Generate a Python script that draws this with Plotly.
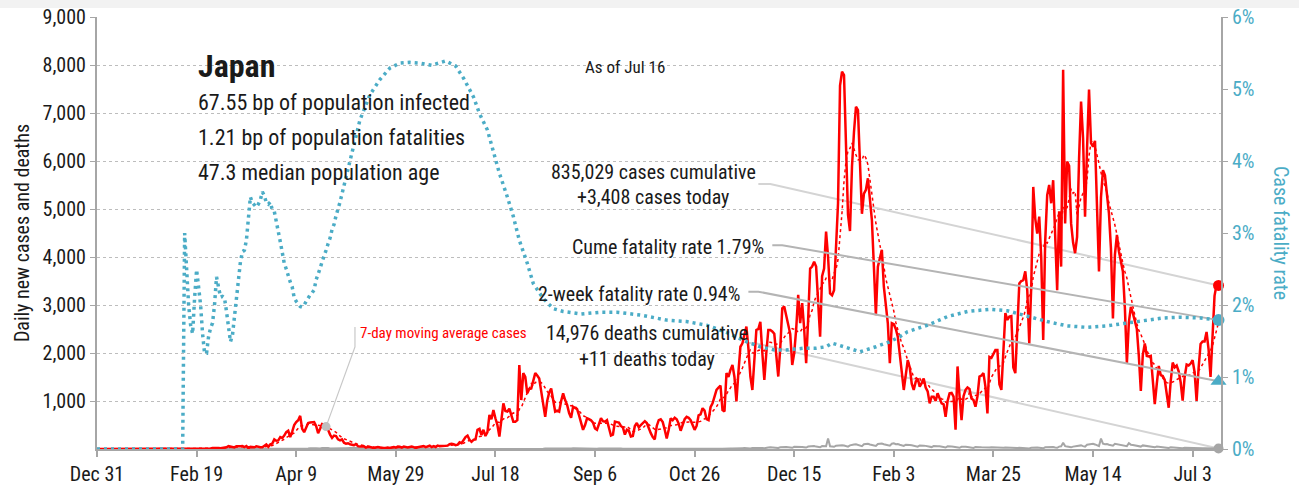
import pandas as pd
import plotly.graph_objects as go

START = "2019-12-31"
FONT = "Liberation Sans Narrow, Arial Narrow, Roboto Condensed, DejaVu Sans Condensed, sans-serif"
RED = "#ff0000"
BLUE = "#4bacc6"
GRAY = "#a6a6a6"
LIGHT = "#d4d4d4"
MID = "#b4b4b4"

# daily new cases, one line per week (Tue .. Mon), from Dec 31 2019
daily_cases = [
    0, 0, 0, 0, 0, 0, 0,
    0, 0, 0, 0, 0, 0, 0,
    0, 0, 1, 0, 0, 0, 0,
    0, 0, 0, 1, 1, 1, 0,
    3, 1, 4, 3, 1, 0, 5,
    0, 2, 1, 0, 1, 0, 2,
    0, 1, 8, 2, 8, 9, 15,
    5, 12, 9, 14, 11, 12, 4,
    14, 9, 20, 25, 17, 21, 14,
    18, 33, 36, 59, 47, 38, 33,
    59, 52, 56, 62, 41, 63, 15,
    44, 39, 36, 55, 43, 37, 38,
    65, 94, 47, 96, 112, 200, 173,
    180, 250, 230, 280, 350, 380, 250,
    360, 500, 560, 600, 690, 420, 350,
    450, 540, 550, 560, 560, 480, 330,
    420, 520, 510, 450, 400, 300, 230,
    280, 270, 200, 180, 200, 130, 110,
    120, 100, 90, 80, 100, 60, 50,
    60, 55, 30, 45, 40, 30, 20,
    30, 40, 30, 25, 20, 15, 30,
    20, 30, 40, 30, 50, 45, 30,
    50, 35, 30, 40, 50, 40, 20,
    35, 40, 50, 60, 40, 60, 70,
    40, 60, 40, 70, 60, 60, 70,
    60, 70, 100, 110, 100, 80, 90,
    140, 120, 200, 250, 280, 190, 150,
    190, 200, 400, 420, 290, 400, 270,
    350, 710, 620, 810, 640, 500, 260,
    630, 950, 790, 780, 840, 700, 570,
    570, 600, 1750, 1020, 1580, 1500, 1160,
    1250, 1260, 1400, 1580, 1530, 1470, 1200,
    950, 670, 1000, 1180, 1260, 1000, 780,
    800, 780, 1000, 1160, 1020, 920, 750,
    650, 880, 850, 830, 700, 560, 400,
    500, 640, 620, 600, 550, 430, 400,
    500, 640, 580, 570, 600, 450, 280,
    300, 570, 560, 550, 480, 450, 300,
    400, 380, 260, 270, 480, 540, 450,
    500, 540, 580, 540, 420, 330, 250,
    200, 480, 600, 620, 560, 400, 220,
    400, 640, 600, 650, 620, 530, 380,
    480, 620, 670, 650, 600, 480, 400,
    480, 700, 720, 850, 800, 620, 600,
    870, 950, 1100, 1230, 1280, 1320, 810,
    780, 1580, 1500, 1650, 1750, 1500, 990,
    1600, 2130, 2200, 2350, 2550, 2100, 1510,
    1230, 2000, 2480, 2500, 2650, 2000, 1440,
    2000, 2480, 2480, 2450, 2400, 2000, 1510,
    2100, 2930, 2970, 2800, 2600, 2400, 1750,
    2000, 2500, 3210, 2620, 3040, 2500, 1790,
    2700, 3760, 3800, 3900, 3800, 3000, 2340,
    3600, 3760, 4530, 4000, 3240, 3200, 3310,
    4200, 5120, 7570, 7860, 7790, 6090, 4880,
    4540, 5880, 6600, 7130, 7060, 6020, 4900,
    5320, 5400, 5640, 5200, 4770, 3800, 2790,
    3800, 3950, 4150, 3380, 2950, 2620, 1790,
    2620, 2600, 2500, 2340, 1900, 1600, 1230,
    1500, 1850, 1700, 1360, 1230, 1400, 1470,
    1300, 1370, 1470, 1280, 1200, 950, 1090,
    1090, 1000, 1160, 1050, 950, 930, 670,
    1000, 1160, 1170, 1090, 400, 1720, 1100,
    600, 1100, 1230, 1280, 1250, 1050, 1020,
    880, 1100, 1510, 1530, 1580, 1300, 740,
    1920, 1900, 1990, 2060, 2060, 1350, 1230,
    2000, 2830, 2690, 2760, 2770, 1700, 1580,
    2700, 3450, 3500, 3520, 3700, 3300, 2200,
    3400, 5460, 4800, 4490, 4840, 4000, 2270,
    4330, 5290, 5500, 5120, 5600, 4590, 3310,
    4950, 3800, 7900, 4700, 5990, 5900, 4700,
    4300, 4080, 4420, 6050, 7240, 6480, 4840,
    6250, 7490, 6370, 6300, 6420, 5230, 3700,
    5240, 5810, 5700, 5280, 4910, 4180, 2720,
    4050, 4460, 4120, 3870, 3700, 2940, 1790,
    2640, 2960, 2830, 2640, 2500, 1940, 1210,
    1960, 2200, 1940, 1930, 1940, 1390, 935,
    1350, 1730, 1540, 1520, 1440, 1160, 860,
    1410, 1800, 1700, 1740, 1620, 1390, 1010,
    1500, 1760, 1740, 1780, 1850, 1600, 1000,
    1680, 2190, 2240, 2240, 2440, 2080, 1500,
    2380, 3190, 3420, 3408,
]

# daily new deaths, same layout
daily_deaths = [
    0, 0, 0, 0, 0, 0, 0,
    0, 0, 0, 0, 0, 0, 0,
    0, 0, 0, 0, 0, 0, 0,
    0, 0, 0, 0, 0, 0, 0,
    0, 0, 0, 0, 0, 0, 0,
    0, 0, 0, 0, 0, 0, 0,
    0, 0, 1, 0, 0, 0, 0,
    0, 0, 1, 0, 0, 0, 0,
    1, 0, 1, 0, 1, 1, 0,
    0, 1, 0, 1, 1, 1, 0,
    2, 1, 1, 1, 0, 2, 1,
    1, 2, 0, 1, 0, 1, 3,
    2, 1, 2, 3, 1, 2, 1,
    2, 3, 2, 4, 5, 3, 2,
    5, 8, 6, 9, 12, 7, 4,
    12, 9, 17, 10, 15, 16, 10,
    13, 19, 22, 24, 22, 12, 13,
    18, 23, 30, 25, 30, 17, 14,
    20, 26, 27, 24, 19, 25, 11,
    15, 18, 12, 14, 9, 8, 6,
    5, 7, 10, 8, 8, 6, 4,
    2, 5, 4, 3, 3, 2, 1,
    2, 1, 3, 2, 1, 1, 0,
    1, 2, 1, 0, 1, 0, 1,
    1, 0, 2, 1, 0, 0, 0,
    1, 0, 1, 0, 1, 0, 0,
    0, 1, 0, 1, 0, 0, 1,
    1, 0, 1, 0, 1, 0, 0,
    1, 0, 2, 0, 1, 0, 0,
    1, 1, 2, 0, 1, 0, 1,
    2, 0, 2, 1, 2, 1, 1,
    3, 4, 6, 5, 4, 3, 2,
    5, 8, 7, 9, 11, 8, 6,
    10, 12, 14, 15, 13, 10, 8,
    12, 16, 14, 12, 11, 9, 7,
    12, 10, 11, 12, 9, 8, 6,
    10, 11, 9, 12, 8, 7, 5,
    8, 9, 7, 10, 9, 6, 5,
    6, 5, 4, 8, 9, 6, 5,
    7, 9, 8, 6, 7, 5, 3,
    6, 8, 7, 9, 6, 5, 3,
    6, 7, 6, 8, 5, 4, 3,
    7, 6, 8, 7, 5, 6, 3,
    8, 7, 9, 8, 6, 5, 4,
    7, 9, 8, 10, 8, 6, 5,
    10, 12, 11, 13, 9, 8, 7,
    12, 15, 18, 20, 16, 14, 10,
    20, 22, 25, 28, 24, 20, 15,
    30, 32, 35, 33, 30, 28, 20,
    35, 40, 38, 42, 36, 30, 25,
    45, 48, 50, 52, 44, 38, 30,
    50, 55, 58, 60, 50, 45, 35,
    60, 62, 58, 220, 55, 50, 45,
    70, 75, 78, 80, 72, 60, 50,
    75, 90, 95, 100, 88, 70, 60,
    100, 105, 110, 95, 90, 70, 65,
    105, 110, 115, 100, 95, 80, 70,
    110, 120, 100, 105, 90, 75, 65,
    90, 95, 85, 80, 70, 60, 50,
    75, 80, 70, 65, 60, 45, 40,
    60, 65, 58, 55, 45, 40, 30,
    55, 60, 50, 48, 40, 35, 25,
    45, 50, 48, 42, 35, 30, 22,
    40, 45, 38, 35, 30, 25, 20,
    30, 35, 32, 28, 25, 20, 15,
    25, 30, 28, 25, 22, 18, 12,
    20, 25, 22, 24, 20, 15, 10,
    25, 30, 28, 30, 25, 20, 15,
    35, 40, 38, 45, 40, 30, 25,
    50, 55, 130, 60, 50, 45, 35,
    50, 60, 70, 80, 75, 60, 50,
    90, 100, 95, 110, 95, 80, 60,
    216, 110, 100, 105, 90, 80, 70,
    110, 100, 95, 90, 85, 75, 60,
    120, 90, 85, 80, 70, 60, 50,
    75, 70, 65, 60, 55, 45, 35,
    50, 45, 40, 35, 30, 28, 20,
    35, 30, 28, 25, 22, 20, 15,
    25, 22, 20, 18, 15, 12, 10,
    18, 16, 14, 15, 12, 10, 8,
    15, 14, 12, 11,
]

# cumulative case fatality rate (%), by day offset from Dec 31 2019
cfr_day = [
    0, 43, 44, 45, 46, 47, 48, 49, 50, 51, 52, 53, 54, 55, 56, 57, 58, 59, 60,
    61, 62, 63, 64, 65, 66, 67, 68, 69, 70, 71, 72, 73, 74, 75, 76, 77, 78, 79,
    80, 81, 82, 83, 84, 85, 86, 87, 88, 89, 90, 91, 92, 93, 94, 95, 96, 97, 98,
    99, 100, 101, 102, 103, 104, 105, 106, 107, 108, 109, 110, 111, 112, 113,
    114, 115, 116, 117, 118, 119, 120, 121, 122, 127, 132, 137, 142, 147, 152,
    157, 162, 168, 175, 180, 184, 189, 192, 196, 199, 202, 206, 209, 212, 216,
    219, 224, 229, 234, 243, 253, 261, 273, 286, 296, 306, 316, 326, 333, 340,
    346, 355, 361, 366, 369, 375, 383, 391, 398, 403, 407, 417, 427, 437, 448,
    457, 467, 477, 487, 497, 507, 517, 525, 535, 544, 554, 563,
]
cfr_pct = [
    0, 0, 3.00, 2.50, 2.00, 1.72, 1.60, 2.10, 2.49, 2.25, 2.00, 1.60, 1.33, 1.33,
    1.56, 1.68, 1.75, 2.00, 2.39, 2.25, 2.11, 2.12, 2.10, 1.91, 1.72, 1.49, 1.58,
    1.85, 2.05, 2.32, 2.60, 2.74, 2.76, 2.90, 3.20, 3.50, 3.42, 3.38, 3.36, 3.40,
    3.46, 3.57, 3.52, 3.42, 3.40, 3.43, 3.32, 3.30, 3.12, 3.02, 2.88, 2.69, 2.58,
    2.50, 2.40, 2.32, 2.25, 2.10, 2.05, 2.01, 1.98, 1.97, 2.00, 2.05, 2.10, 2.14,
    2.17, 2.21, 2.35, 2.45, 2.51, 2.60, 2.70, 2.76, 2.85, 2.93, 3.05, 3.12, 3.24,
    3.33, 3.43, 4.00, 4.57, 4.92, 5.13, 5.29, 5.36, 5.37, 5.36, 5.33, 5.39, 5.32,
    5.15, 4.89, 4.66, 4.43, 4.15, 3.83, 3.50, 3.23, 2.90, 2.58, 2.30, 2.09, 1.95,
    1.91, 1.875, 1.90, 1.90, 1.86, 1.79, 1.77, 1.72, 1.62, 1.49, 1.42, 1.375,
    1.375, 1.40, 1.40, 1.42, 1.47, 1.42, 1.35, 1.42, 1.49, 1.56, 1.63, 1.72, 1.84,
    1.91, 1.94, 1.92, 1.84, 1.77, 1.71, 1.69, 1.71, 1.75, 1.78, 1.82, 1.83, 1.82,
    1.79,
]

case_ticks = [1000, 2000, 3000, 4000, 5000, 6000, 7000, 8000, 9000]
case_tick_text = ["1,000", "2,000", "3,000", "4,000", "5,000", "6,000", "7,000", "8,000", "9,000"]
cfr_ticks = [0, 1, 2, 3, 4, 5, 6]
cfr_tick_text = ["0%", "1%", "2%", "3%", "4%", "5%", "6%"]

cases_today = 3408
deaths_today = 11
cume_fatality_rate = 1.79
two_week_fatality_rate = 0.94

dates = pd.date_range(START, periods=len(daily_cases), freq="D")
cases = pd.Series(daily_cases, index=dates)
deaths = pd.Series(daily_deaths, index=dates)
ma7 = cases.rolling(7, min_periods=1).mean()
cfr_dates = pd.to_datetime(START) + pd.to_timedelta(cfr_day, unit="D")
last = dates[-1]
ma_pin = pd.Timestamp("2020-04-24")

fig = go.Figure()


def leader(x0, x1, y0, y_end, color, axis="y"):
    fig.add_trace(go.Scatter(
        x=[pd.Timestamp(x0), pd.Timestamp(x1), last], y=[y0, y0, y_end], yaxis=axis,
        mode="lines", line=dict(color=color, width=2), hoverinfo="skip", showlegend=False,
    ))


leader("2020-11-27", "2020-12-03", 5520, cases_today, LIGHT)
leader("2020-12-04", "2020-12-09", 2.83, cume_fatality_rate, MID, "y2")
leader("2020-11-22", "2020-11-27", 2.185, two_week_fatality_rate, MID, "y2")
leader("2020-11-22", "2020-11-25", 2210, deaths_today, LIGHT)

fig.add_trace(go.Scatter(x=dates, y=deaths, mode="lines", line=dict(color=GRAY, width=2),
                         showlegend=False, name="deaths"))
fig.add_trace(go.Scatter(x=dates, y=ma7, mode="lines", line=dict(color=RED, width=1.5, dash="dot"),
                         showlegend=False, name="7-day average"))
fig.add_trace(go.Scatter(x=dates, y=cases, mode="lines", line=dict(color=RED, width=2.5),
                         showlegend=False, name="cases"))
fig.add_trace(go.Scatter(x=cfr_dates, y=cfr_pct, yaxis="y2", mode="lines",
                         line=dict(color=BLUE, width=3.5, dash="3px,4px"), showlegend=False, name="CFR"))

# pointer to the moving average
fig.add_trace(go.Scatter(
    x=[ma_pin, pd.Timestamp("2020-05-08 12:00"), pd.Timestamp("2020-05-08 12:00")],
    y=[ma7[ma_pin], 2125, 2540], mode="lines", line=dict(color="#c8c8c8", width=1.2),
    hoverinfo="skip", showlegend=False,
))
fig.add_trace(go.Scatter(x=[ma_pin], y=[ma7[ma_pin]], mode="markers",
                         marker=dict(color="#bfbfbf", size=9), showlegend=False, hoverinfo="skip"))

# end-of-series markers
fig.add_trace(go.Scatter(x=[last], y=[cases_today], mode="markers", cliponaxis=False,
                         marker=dict(color=RED, size=11), showlegend=False))
fig.add_trace(go.Scatter(x=[last], y=[deaths_today], mode="markers", cliponaxis=False,
                         marker=dict(color=GRAY, size=10), showlegend=False))
fig.add_trace(go.Scatter(x=[last], y=[cume_fatality_rate], yaxis="y2", mode="markers", cliponaxis=False,
                         marker=dict(color=BLUE, size=12), showlegend=False))
fig.add_trace(go.Scatter(x=[last], y=[two_week_fatality_rate], yaxis="y2", mode="markers", cliponaxis=False,
                         marker=dict(color=BLUE, size=14, symbol="triangle-up"), showlegend=False))


def px_x(px):
    return (px - 97) / 1124


def px_y(py):
    return (449 - py) / 432


def note(text, x, y, size=22, anchor="left", color="#1a1a1a", **kw):
    fig.add_annotation(text=text, x=px_x(x), y=px_y(y), xref="paper", yref="paper",
                       xanchor=anchor, yanchor="middle", showarrow=False,
                       font=dict(family=FONT, size=size, color=color), **kw)


note("<b>Japan</b>", 196, 66, size=32)
note("67.55 bp of population infected", 196, 102)
note("1.21 bp of population fatalities", 196, 137)
note("47.3 median population age", 196, 172)
note("As of Jul 16", 625, 67, size=17, anchor="center")
note("835,029 cases cumulative", 653, 172, size=20, anchor="center")
note("+3,408 cases today", 653, 197, size=20, anchor="center")
note("Cume fatality rate 1.79%", 766, 247, size=20, anchor="right")
note("2-week fatality rate 0.94%", 742, 294, size=20, anchor="right")
note("14,976 deaths cumulative", 647, 333, size=20, anchor="center")
note("+11 deaths today", 647, 359, size=20, anchor="center")
note("7-day moving average cases", 358, 333, size=15, color=RED)
note("Case fatality rate", 1281, 233, size=20, anchor="center", color=BLUE, textangle=90)

fig.update_layout(
    width=1299, height=488,
    margin=dict(l=97, r=78, t=17, b=39, autoexpand=False),
    paper_bgcolor="white", plot_bgcolor="white",
    font=dict(family=FONT, size=20, color="#1a1a1a"),
    xaxis=dict(
        type="date", range=["2019-12-31", "2021-07-17 06:00"], automargin=False,
        tick0="2019-12-31", dtick=50 * 86400000, tickformat="%b %-d",
        showgrid=False, showline=True, linecolor=GRAY, linewidth=2,
        ticks="outside", ticklen=6, tickcolor=GRAY, tickwidth=1.5, zeroline=False,
    ),
    yaxis=dict(
        range=[0, 9000], tickvals=case_ticks, ticktext=case_tick_text, automargin=False,
        showgrid=True, gridcolor="#bdbdbd", griddash="dot", gridwidth=1,
        showline=True, linecolor=GRAY, linewidth=2, zeroline=False,
        ticks="outside", ticklen=5, tickcolor=GRAY,
        title=dict(text="Daily new cases and deaths", font=dict(size=20, color="#1a1a1a"), standoff=8),
    ),
    yaxis2=dict(
        range=[0, 6], tickvals=cfr_ticks, ticktext=cfr_tick_text, overlaying="y", side="right",
        automargin=False, showgrid=False, showline=True, linecolor=GRAY, linewidth=2, zeroline=False,
        ticks="outside", ticklen=5, tickcolor=GRAY, tickfont=dict(color=BLUE, size=20),
    ),
    shapes=[dict(type="rect", xref="paper", yref="paper", x0=-0.1, x1=1.1, y0=1.021, y1=1.06,
                 fillcolor="#f2f2f2", line=dict(width=0), layer="below")],
)

# pin the fixed-size figure to the page corner (no default body margin)
fig.write_html(
    "out.html",
    config={"displayModeBar": False},
    post_script="document.body.style.margin='0';var g=document.getElementById('{plot_id}');"
                "g.style.position='absolute';g.style.left='0px';g.style.top='0px';",
)
